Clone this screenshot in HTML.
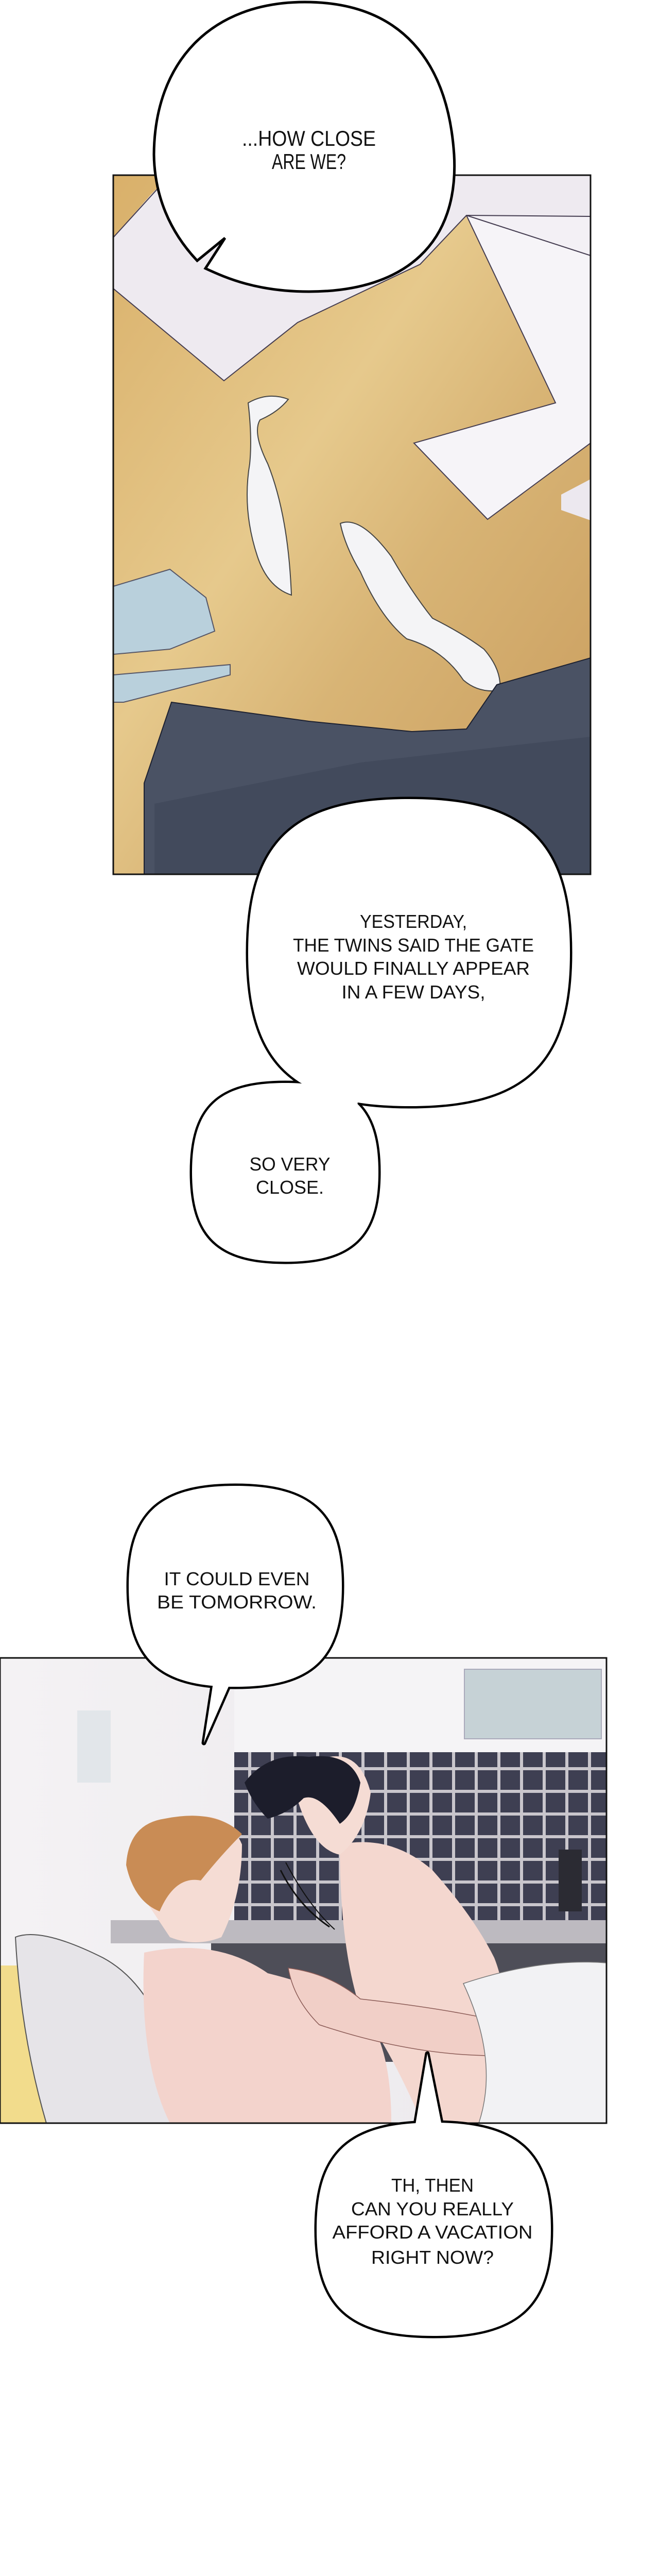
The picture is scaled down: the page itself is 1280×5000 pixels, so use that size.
<!DOCTYPE html>
<html><head><meta charset="utf-8"><style>
html,body{margin:0;padding:0;background:#fff;}
body{width:1280px;height:5000px;position:relative;overflow:hidden;}
svg{position:absolute;left:0;top:0;}
text{font-family:"Liberation Sans",sans-serif;fill:#111;text-anchor:middle;}
</style></head><body>
<svg width="1280" height="5000" viewBox="0 0 1280 5000" xmlns="http://www.w3.org/2000/svg">
<defs>
<linearGradient id="wood" x1="0" y1="0" x2="1" y2="1">
<stop offset="0" stop-color="#d9b06a"/><stop offset="0.4" stop-color="#e6c98c"/><stop offset="0.6" stop-color="#d8b475"/><stop offset="1" stop-color="#c89b5c"/>
</linearGradient>
<linearGradient id="wall" x1="0" y1="0" x2="1" y2="0">
<stop offset="0" stop-color="#f4f2f4"/><stop offset="1" stop-color="#ebe8ec"/>
</linearGradient>
<pattern id="tile" width="44" height="44" patternUnits="userSpaceOnUse">
<rect width="44" height="44" fill="#c9c6cc"/><rect x="4" y="4" width="38" height="38" fill="#3e3f52"/>
</pattern>
</defs>

<!-- Panel 1 -->
<rect x="220" y="340" width="927" height="1357" fill="url(#wood)"/>
<polygon points="220,461 292,379 330,340 1147,340 1147,496 1079,782 804,860 947,1008 1147,860 1147,496 906,418 816,513 578,626 435,739 220,560" fill="#f3f0f5"/>
<polygon points="906,418 1147,496 1147,860 947,1008 804,860 1079,782" fill="#f6f4f8" stroke="#443c50" stroke-width="2"/>
<polygon points="220,461 330,340 1147,340 1147,420 906,418 816,513 578,626 435,739 220,560" fill="#eeeaf0" stroke="#443c50" stroke-width="2"/>
<polygon points="1090,960 1147,930 1147,1010 1090,990" fill="#ece8ef"/>
<path d="M482,782 Q520,760 560,775 Q540,800 505,815 Q490,840 520,900 Q560,1000 566,1155 Q520,1140 500,1080 Q470,990 485,900 Q490,850 482,782Z" fill="#f4f4f6" stroke="#444" stroke-width="2"/>
<path d="M661,1016 Q700,1000 760,1080 Q800,1150 840,1200 Q900,1230 940,1260 Q975,1300 971,1340 Q930,1346 900,1320 Q860,1260 790,1240 Q740,1200 700,1110 Q670,1060 661,1016Z" fill="#f4f4f6" stroke="#444" stroke-width="2"/>
<polygon points="220,1138 330,1105 400,1160 417,1225 330,1260 220,1270" fill="#b9d0dc" stroke="#556" stroke-width="2"/>
<polygon points="220,1310 447,1290 447,1310 240,1363 220,1363" fill="#b9d0dc" stroke="#556" stroke-width="2"/>
<polygon points="333,1363 600,1400 800,1420 906,1415 965,1329 1147,1277 1147,1697 280,1697 280,1520" fill="#4a5264" stroke="#1c2030" stroke-width="2"/>
<polygon points="300,1560 700,1480 1147,1430 1147,1697 300,1697" fill="#424a5c"/>
<rect x="220" y="340" width="927" height="1357" fill="none" stroke="#111" stroke-width="3"/>

<!-- Panel 2 -->
<rect x="0" y="3218" width="1178" height="903" fill="url(#wall)"/>
<rect x="455" y="3218" width="723" height="183" fill="#f5f4f6"/>
<rect x="902" y="3240" width="266" height="135" fill="#c6d2d6" stroke="#aab" stroke-width="2"/>
<rect x="455" y="3401" width="723" height="326" fill="url(#tile)"/>
<rect x="215" y="3727" width="963" height="45" fill="#bdbac0"/>
<rect x="410" y="3772" width="768" height="230" fill="#4e4e58"/>
<rect x="150" y="3320" width="65" height="140" fill="#e2e6ea"/>
<rect x="1085" y="3590" width="45" height="120" fill="#2b2b33"/>
<polygon points="0,3815 220,3815 220,4121 0,4121" fill="#f2dc8c"/>
<path d="M30,3760 Q80,3740 200,3800 Q330,3870 360,4121 L90,4121 Q40,3950 30,3760Z" fill="#e6e4e8" stroke="#555" stroke-width="2"/>
<path d="M280,3790 Q420,3760 520,3830 Q640,3860 700,3900 Q760,3960 760,4121 L330,4121 Q270,4000 280,3790Z" fill="#f3d3cc"/>
<path d="M290,3700 Q270,3560 360,3530 Q440,3510 470,3580 Q470,3680 430,3760 Q380,3780 330,3760 Z" fill="#f5dcd4"/>
<path d="M245,3620 Q250,3540 320,3530 Q420,3510 470,3560 Q430,3600 390,3650 Q340,3640 310,3710 Q260,3690 245,3620Z" fill="#c98c55"/>
<path d="M660,3580 Q760,3560 840,3630 Q920,3720 960,3800 Q1000,3900 980,4121 L820,4121 Q760,3980 700,3900 Q660,3780 660,3580Z" fill="#f4d7cf"/>
<path d="M580,3500 Q560,3420 640,3410 Q700,3400 720,3480 Q710,3560 660,3600 Q610,3590 580,3500Z" fill="#f5dcd4"/>
<path d="M475,3460 Q520,3400 600,3410 Q680,3400 700,3460 Q690,3520 660,3540 Q620,3480 590,3490 Q560,3520 520,3530 Q490,3500 475,3460Z" fill="#1c1d2b"/>
<path d="M560,3820 Q640,3830 700,3880 Q880,3900 1000,3930 L960,3990 Q800,3990 620,3930 Q570,3880 560,3820Z" fill="#f1cfc7" stroke="#8a5a55" stroke-width="1.5"/>
<path d="M900,3850 Q1050,3800 1178,3810 L1178,4121 L930,4121 Q970,4000 900,3850Z" fill="#f2f2f4" stroke="#777" stroke-width="1.5"/>
<path d="M545,3630 Q580,3700 640,3740" fill="none" stroke="#111" stroke-width="3"/>
<path d="M555,3615 Q600,3700 650,3745" fill="none" stroke="#111" stroke-width="2"/>
<rect x="0" y="3218" width="1178" height="903" fill="none" stroke="#111" stroke-width="3"/>

<!-- Bubble 1 (single path with tail) -->
<path d="M592,4 C780,4 870,120 882,300 C892,470 790,566 600,566 C500,566 440,540 399,521 L437,462 L383,506 C330,450 300,380 299,300 C300,120 410,4 592,4Z" fill="#fff" stroke="#000" stroke-width="5" stroke-linejoin="miter"/>

<!-- Other bubbles: stroke layer -->
<g fill="#fff" stroke="#000" stroke-width="9" stroke-linejoin="round">
<path d="M795,1551 C1020,1551 1107,1634 1107,1849 C1107,2064 1020,2147 795,2147 C570,2147 482,2064 482,1849 C482,1634 570,1551 795,1551Z"/>
<path d="M554,2102 C684,2102 735,2150 735,2275 C735,2400 684,2449 554,2449 C424,2449 373,2400 373,2275 C373,2150 424,2102 554,2102Z"/>
<polygon points="588,2102 560,2060 700,2090 694,2147 640,2150"/>
<path d="M457,2884 C606,2884 664,2939 664,3079 C664,3219 606,3274 457,3274 C308,3274 250,3219 250,3079 C250,2939 308,2884 457,2884Z"/>
<polygon points="415,3260 396,3383 450,3260"/>
<path d="M842,4120 C1006,4120 1070,4178 1070,4327 C1070,4476 1006,4534 842,4534 C678,4534 615,4476 615,4327 C615,4178 678,4120 842,4120Z"/>
<polygon points="805,4135 830,3986 860,4135"/>
</g>
<g fill="#fff" stroke="none">
<path d="M795,1551 C1020,1551 1107,1634 1107,1849 C1107,2064 1020,2147 795,2147 C570,2147 482,2064 482,1849 C482,1634 570,1551 795,1551Z"/>
<path d="M554,2102 C684,2102 735,2150 735,2275 C735,2400 684,2449 554,2449 C424,2449 373,2400 373,2275 C373,2150 424,2102 554,2102Z"/>
<polygon points="588,2102 560,2060 700,2090 694,2147 640,2150"/>
<path d="M457,2884 C606,2884 664,2939 664,3079 C664,3219 606,3274 457,3274 C308,3274 250,3219 250,3079 C250,2939 308,2884 457,2884Z"/>
<polygon points="415,3260 396,3383 450,3260"/>
<path d="M842,4120 C1006,4120 1070,4178 1070,4327 C1070,4476 1006,4534 842,4534 C678,4534 615,4476 615,4327 C615,4178 678,4120 842,4120Z"/>
<polygon points="805,4135 830,3986 860,4135"/>
</g>

<!-- Text -->
<g font-size="42" lengthAdjust="spacingAndGlyphs">
<text x="600" y="283" textLength="260" lengthAdjust="spacingAndGlyphs">...HOW CLOSE</text>
<text x="600" y="328" textLength="144" lengthAdjust="spacingAndGlyphs">ARE WE?</text>
</g>
<g font-size="36">
<text x="803" y="1801" textLength="208" lengthAdjust="spacingAndGlyphs">YESTERDAY,</text>
<text x="803" y="1847" textLength="468" lengthAdjust="spacingAndGlyphs">THE TWINS SAID THE GATE</text>
<text x="803" y="1892" textLength="452" lengthAdjust="spacingAndGlyphs">WOULD FINALLY APPEAR</text>
<text x="803" y="1938" textLength="279" lengthAdjust="spacingAndGlyphs">IN A FEW DAYS,</text>
<text x="563" y="2272" textLength="157" lengthAdjust="spacingAndGlyphs">SO VERY</text>
<text x="563" y="2317" textLength="132" lengthAdjust="spacingAndGlyphs">CLOSE.</text>
<text x="460" y="3077" textLength="283" lengthAdjust="spacingAndGlyphs">IT COULD EVEN</text>
<text x="460" y="3122" textLength="310" lengthAdjust="spacingAndGlyphs">BE TOMORROW.</text>
<text x="840" y="4254" textLength="160" lengthAdjust="spacingAndGlyphs">TH, THEN</text>
<text x="840" y="4300" textLength="316" lengthAdjust="spacingAndGlyphs">CAN YOU REALLY</text>
<text x="840" y="4345" textLength="389" lengthAdjust="spacingAndGlyphs">AFFORD A VACATION</text>
<text x="840" y="4394" textLength="238" lengthAdjust="spacingAndGlyphs">RIGHT NOW?</text>
</g>
</svg>
</body></html>
